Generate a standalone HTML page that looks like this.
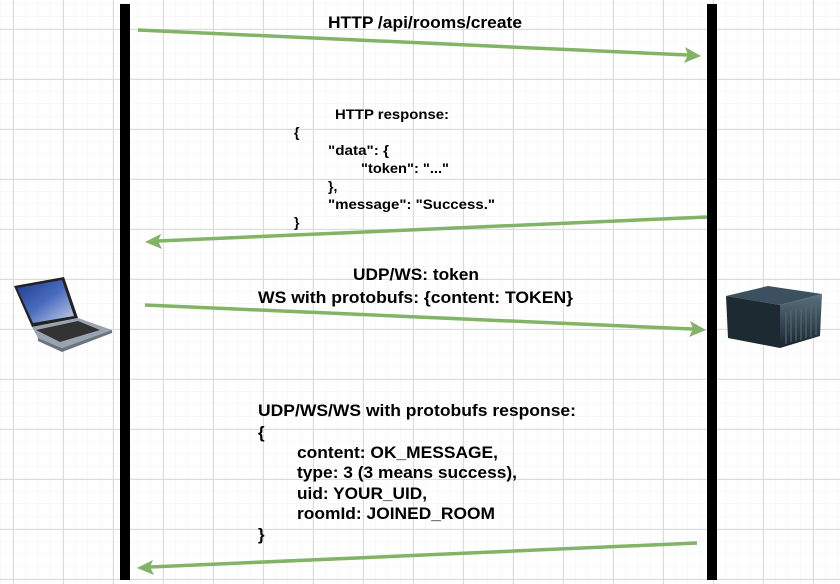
<!DOCTYPE html>
<html><head><meta charset="utf-8"><style>
html,body{margin:0;padding:0;background:#fff}
svg{display:block}
text{font-family:"Liberation Sans",Arial,sans-serif;font-weight:bold;fill:#000}
</style></head><body>
<svg width="840" height="584" viewBox="0 0 840 584" xmlns="http://www.w3.org/2000/svg">
<defs>
<pattern id="minor" x="0.5" y="4" width="12.5" height="12.5" patternUnits="userSpaceOnUse">
<path d="M12.5 0V12.5M0 12.5H12.5" stroke="#f0f0f0" stroke-width="1" fill="none"/>
</pattern>
<pattern id="major" x="13" y="29" width="50" height="50" patternUnits="userSpaceOnUse">
<path d="M0.5 0V50M0 0.5H50" stroke="#dcdcdc" stroke-width="1" fill="none"/>
</pattern>
<linearGradient id="scr" x1="0" y1="0" x2="1" y2="1"><stop offset="0" stop-color="#1c3a8a"/><stop offset="0.5" stop-color="#4a6cc0"/><stop offset="1" stop-color="#c8d2e6"/></linearGradient>
<linearGradient id="srv" x1="0" y1="0" x2="0" y2="1"><stop offset="0" stop-color="#5a7080"/><stop offset="1" stop-color="#18242c"/></linearGradient>
</defs>
<rect width="840" height="584" fill="url(#minor)"/>
<rect width="840" height="584" fill="url(#major)"/>

<rect x="120" y="4" width="10" height="576" fill="#000"/>
<rect x="707" y="4" width="10" height="576" fill="#000"/>

<g stroke="#82b366" stroke-width="3.5" fill="#82b366">
<line x1="138" y1="30" x2="688" y2="55"/>
<polygon points="701,56 684,63 688,55 685,47" stroke="none"/>
<line x1="707" y1="217" x2="158" y2="241"/>
<polygon points="145,242 161,234 158,241 162,249" stroke="none"/>
<line x1="145" y1="305" x2="693" y2="329"/>
<polygon points="706,330 689,337 693,329 690,321" stroke="none"/>
<line x1="697" y1="543" x2="150" y2="567"/>
<polygon points="137,568 153,560 150,567 154,575" stroke="none"/>
</g>

<!-- laptop -->
<g>
<polygon points="14,286 64,277 78,318 32,327" fill="#222"/>
<polygon points="17,288 62,280 74,316 33,323" fill="url(#scr)"/>
<polygon points="32,327 78,318 112,330 62,348 38,338" fill="#9aa4b0"/>
<polygon points="36,330 78,321 100,330 60,342" fill="#333"/>
<polygon points="38,338 62,348 112,330 112,333 62,352 38,341" fill="#6a7480"/>
</g>
<!-- server -->
<g>
<polygon points="726,296 768,286 822,294 780,305" fill="#3c5060"/>
<polygon points="726,296 780,305 780,348 728,338" fill="#1e2a32"/>
<polygon points="780,305 822,294 820,336 780,348" fill="url(#srv)"/>
<g stroke="#5a6a74" stroke-width="1">
<line x1="786" y1="312" x2="786" y2="344"/><line x1="791" y1="311" x2="791" y2="342"/>
<line x1="796" y1="309" x2="796" y2="341"/><line x1="801" y1="308" x2="801" y2="340"/>
<line x1="806" y1="306" x2="806" y2="338"/><line x1="811" y1="305" x2="811" y2="337"/>
<line x1="816" y1="303" x2="816" y2="335"/>
</g>
</g>

<text x="328" y="28" font-size="17" textLength="194" lengthAdjust="spacingAndGlyphs">HTTP /api/rooms/create</text>

<g font-size="14">
<text x="335" y="119" textLength="114" lengthAdjust="spacingAndGlyphs">HTTP response:</text>
<text x="294" y="137">{</text>
<text x="328" y="155" textLength="61" lengthAdjust="spacingAndGlyphs">"data": {</text>
<text x="361" y="173" textLength="88" lengthAdjust="spacingAndGlyphs">"token": "..."</text>
<text x="328" y="191">},</text>
<text x="328" y="209" textLength="167" lengthAdjust="spacingAndGlyphs">"message": "Success."</text>
<text x="294" y="227">}</text>
</g>

<text x="353" y="280" font-size="17" textLength="126" lengthAdjust="spacingAndGlyphs">UDP/WS: token</text>
<text x="258" y="303" font-size="17" textLength="315" lengthAdjust="spacingAndGlyphs">WS with protobufs: {content: TOKEN}</text>

<g font-size="17">
<text x="258" y="416" textLength="318" lengthAdjust="spacingAndGlyphs">UDP/WS/WS with protobufs response:</text>
<text x="258" y="438">{</text>
<text x="297" y="458" textLength="201" lengthAdjust="spacingAndGlyphs">content: OK_MESSAGE,</text>
<text x="297" y="478" textLength="220" lengthAdjust="spacingAndGlyphs">type: 3 (3 means success),</text>
<text x="297" y="499" textLength="130" lengthAdjust="spacingAndGlyphs">uid: YOUR_UID,</text>
<text x="297" y="519" textLength="198" lengthAdjust="spacingAndGlyphs">roomId: JOINED_ROOM</text>
<text x="258" y="540">}</text>
</g>
</svg>
</body></html>
